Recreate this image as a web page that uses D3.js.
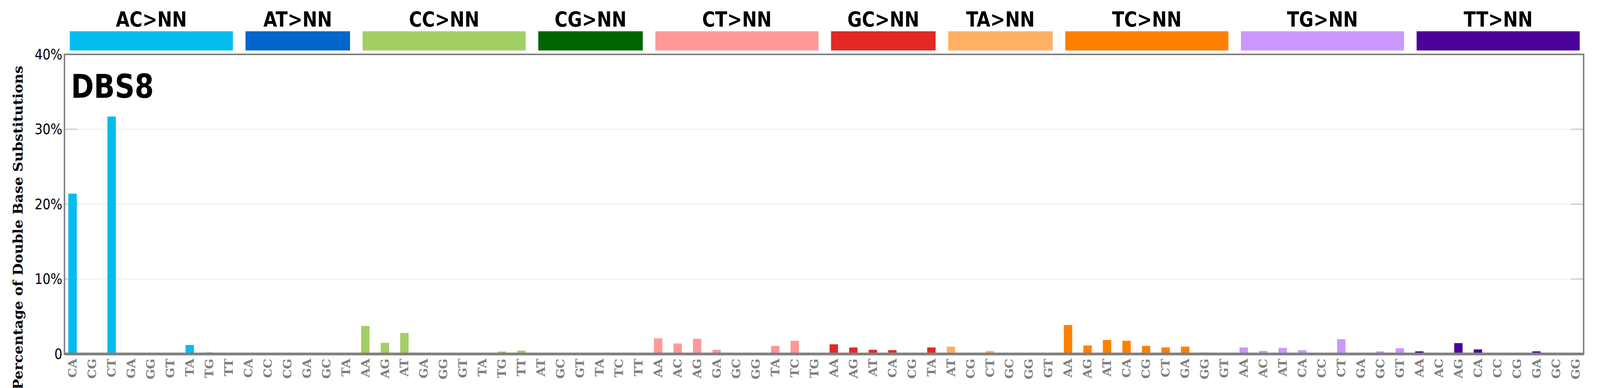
<!DOCTYPE html>
<html><head><meta charset="utf-8">
<script src="https://cdn.jsdelivr.net/npm/d3@7"></script>
<style>html,body{margin:0;padding:0;background:#fff;overflow:hidden}svg{display:block}</style></head>
<body><svg id="c" viewBox="0 0 4393 992" preserveAspectRatio="none" style="width:100vw;height:100vh"></svg>
<script>
const groups = ["AC>NN","AT>NN","CC>NN","CG>NN","CT>NN","GC>NN","TA>NN","TC>NN","TG>NN","TT>NN"];
const groupColors = ["#03BCEE","#0266CA","#A1CF64","#006501","#FF9898","#E22926","#FEB065","#FD8000","#CB98FD","#4C0199"];
const contexts = [
 ["CA","CG","CT","GA","GG","GT","TA","TG","TT"],
 ["CA","CC","CG","GA","GC","TA"],
 ["AA","AG","AT","GA","GG","GT","TA","TG","TT"],
 ["AT","GC","GT","TA","TC","TT"],
 ["AA","AC","AG","GA","GC","GG","TA","TC","TG"],
 ["AA","AG","AT","CA","CG","TA"],
 ["AT","CG","CT","GC","GG","GT"],
 ["AA","AG","AT","CA","CG","CT","GA","GG","GT"],
 ["AA","AC","AT","CA","CC","CT","GA","GC","GT"],
 ["AA","AC","AG","CA","CC","CG","GA","GC","GG"]
];
const values = [
 [21.4,0.05,31.7,0.05,0.05,0.03,1.2,0.2,0.03],
 [0.03,0.03,0.03,0.03,0.03,0.03],
 [3.74,1.49,2.81,0.1,0,0.03,0.1,0.33,0.45],
 [0.04,0,0.14,0.05,0.09,0.05],
 [2.08,1.4,2.02,0.56,0.05,0.05,1.08,1.76,0.1],
 [1.29,0.87,0.56,0.51,0.05,0.87],
 [0.98,0,0.4,0.1,0.05,0.05],
 [3.86,1.13,1.87,1.76,1.08,0.87,0.98,0.19,0.05],
 [0.87,0.4,0.82,0.51,0.14,1.97,0.05,0.35,0.77],
 [0.35,0,1.45,0.61,0.05,0.05,0.35,0.05,0.05]
];
const yTicks = [0,10,20,30,40];
const sigName = "DBS8";

const data = [];
groups.forEach((g,gi)=>contexts[gi].forEach((c,ci)=>data.push({g:gi,c,v:values[gi][ci],id:gi+"_"+ci})));

const L=177,R=4348,T=139,B=905;
const narrow="Liberation Sans Narrow, DejaVu Sans Condensed, sans-serif";
const svg=d3.select("#c");
const x=d3.scaleBand().domain(data.map(d=>d.id)).range([L,R]).paddingInner(0.57).paddingOuter(0.2);
const y=d3.scaleLinear().domain([0,40]).range([B,T]);

svg.append("g").selectAll("line").data(yTicks.filter(t=>t>0&&t<40)).join("line")
 .attr("x1",L).attr("x2",R).attr("y1",d=>y(d)).attr("y2",d=>y(d)).attr("stroke","#ebebeb").attr("stroke-width",2);
svg.append("g").selectAll("line").data(yTicks).join("line")
 .attr("x1",L).attr("x2",L+35).attr("y1",d=>y(d)).attr("y2",d=>y(d)).attr("stroke","#d4d4d4").attr("stroke-width",4);
svg.append("g").selectAll("line").data(yTicks).join("line")
 .attr("x1",R-35).attr("x2",R).attr("y1",d=>y(d)).attr("y2",d=>y(d)).attr("stroke","#d4d4d4").attr("stroke-width",4);

svg.append("g").selectAll("rect").data(data).join("rect")
 .attr("x",d=>x(d.id)).attr("width",x.bandwidth())
 .attr("y",d=>y(d.v)).attr("height",d=>B-y(d.v)).attr("fill",d=>groupColors[d.g]);

svg.append("rect").attr("x",L).attr("y",T).attr("width",R-L).attr("height",B-T)
 .attr("fill","none").attr("stroke","#808080").attr("stroke-width",4);
svg.append("line").attr("x1",L).attr("x2",R).attr("y1",B).attr("y2",B).attr("stroke","#808080").attr("stroke-width",7);

const yAxis=d3.axisLeft(y).tickValues(yTicks).tickFormat(d=>d===0?"0":d+"%").tickSize(0).tickPadding(6);
const ya=svg.append("g").attr("transform",`translate(${L},0)`).call(yAxis);
ya.select(".domain").remove();
ya.selectAll("text").attr("font-family",narrow).attr("font-size",38).attr("fill","#000");

svg.append("text").attr("transform",`translate(62,${(T+B)/2+60}) rotate(-90)`).attr("text-anchor","middle")
 .attr("font-family","DejaVu Serif, serif").attr("font-weight","bold").attr("font-size",36).attr("fill","#000")
 .text("Percentage of Double Base Substitutions");

svg.append("g").selectAll("text").data(data).join("text")
 .attr("transform",d=>`translate(${x(d.id)+x.bandwidth()/2+11},${B+12}) rotate(-90)`)
 .attr("text-anchor","end").attr("font-family","DejaVu Serif, serif").attr("font-weight","bold")
 .attr("font-size",31).attr("fill","#808080").text(d=>d.c);

const hdr=groups.map((g,gi)=>{const ids=data.filter(d=>d.g===gi).map(d=>d.id);return {g,gi,x0:x(ids[0])+4,x1:x(ids[ids.length-1])+x.bandwidth()};});
svg.append("g").selectAll("rect").data(hdr).join("rect")
 .attr("x",d=>d.x0).attr("width",d=>d.x1-d.x0).attr("y",80).attr("height",49).attr("fill",d=>groupColors[d.gi]);
svg.append("g").selectAll("text").data(hdr).join("text")
 .attr("x",d=>(d.x0+d.x1)/2).attr("y",68).attr("text-anchor","middle")
 .attr("font-family",narrow).attr("font-weight","bold").attr("font-size",54).attr("fill","#000").text(d=>d.g);

svg.append("text").attr("x",195).attr("y",250).attr("font-family",narrow).attr("font-weight","bold")
 .attr("font-size",84).attr("fill","#000").text(sigName);
</script></body></html>
